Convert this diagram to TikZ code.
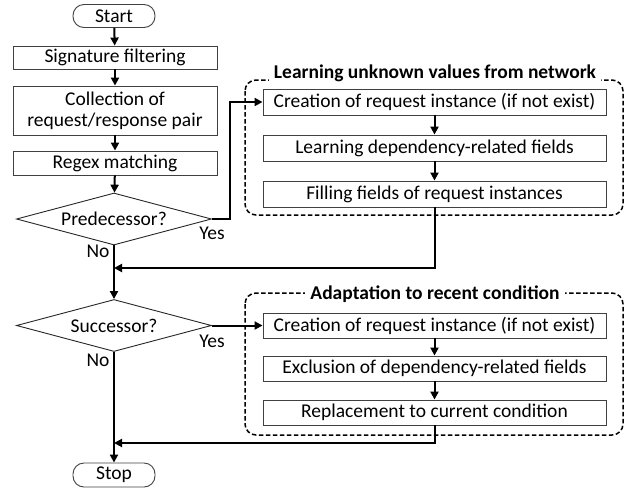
\documentclass[tikz,border=0pt]{standalone}
\usepackage{fontspec}
\setmainfont{Carlito}
\usetikzlibrary{shapes.geometric,arrows.meta}
\begin{document}
\begin{tikzpicture}[x=1pt,y=-1pt,
  font=\fontsize{19.5}{21}\selectfont,
  box/.style={draw=black!75,line width=0.9pt,inner sep=0pt,align=center},
  stepbox/.style={box,minimum width=204pt},
  subbox/.style={box,minimum width=343pt,minimum height=26pt},
  term/.style={box,rounded corners=11pt,minimum width=82pt,minimum height=23pt},
  decide/.style={draw=black!85,line width=0.9pt,diamond,inner sep=0pt,aspect=3.75,minimum width=195pt,minimum height=52pt},
  conn/.style={line width=2pt,-{Triangle[length=8pt,width=8pt]}},
  group/.style={draw,line width=1.5pt,dash pattern=on 4.5pt off 2.5pt,rounded corners=11pt},
  gtitle/.style={fill=white,inner xsep=5pt,inner ysep=1pt,font=\fontsize{19.5}{21}\selectfont\bfseries},
  lbl/.style={inner sep=0pt}]
\useasboundingbox (0,0) rectangle (629,491);

% main column
\node[term] (start) at (114,16) {Start};
\node[stepbox,minimum height=23pt] (sig) at (115,57.5) {Signature filtering};
\node[stepbox,minimum height=49pt] (coll) at (115,110.5) {Collection of\\request/response pair};
\node[stepbox,minimum height=24pt] (regex) at (115,163) {Regex matching};
\node[decide] (pred) at (114,219) {Predecessor?};
\node[decide] (succ) at (114,325.5) {Successor?};
\node[term,minimum height=24pt] (stop) at (114,475) {Stop};

% first group: learning unknown values
\draw[group] (245,80) rectangle (623,215);
\node[gtitle] (t1) at (435,73) {Learning unknown values from network};
\node[subbox] (cr1) at (434.5,102) {Creation of request instance (if not exist)};
\node[subbox] (lrn) at (434.5,148) {Learning dependency-related fields};
\node[subbox] (fil) at (434.5,194) {Filling fields of request instances};

% second group: adaptation
\draw[group] (245,293) rectangle (623,435);
\node[gtitle] (t2) at (435,294) {Adaptation to recent condition};
\node[subbox,minimum height=25pt] (cr2) at (434.5,325.5) {Creation of request instance (if not exist)};
\node[subbox,minimum height=25pt] (exc) at (434.5,368.5) {Exclusion of dependency-related fields};
\node[subbox,minimum height=25pt] (rep) at (434.5,412.5) {Replacement to current condition};

% junction points
\coordinate (j1) at (230,219);
\coordinate (m1) at (114,268);
\coordinate (m2) at (114,443);

% connectors
\draw[conn] (start) -- (sig);
\draw[conn] (sig) -- (coll);
\draw[conn] (coll) -- (regex);
\draw[conn] (regex) -- (pred);
\draw[conn] (pred.east) -- (j1) |- (cr1.west);
\draw[conn] (cr1) -- (lrn);
\draw[conn] (lrn) -- (fil);
\draw[conn] (fil.south) |- (m1);
\draw[conn] (pred.south) -- (succ.north);
\draw[conn] (succ.east) -- (cr2.west);
\draw[conn] (cr2) -- (exc);
\draw[conn] (exc) -- (rep);
\draw[conn] (rep.south) |- (m2);
\draw[conn] (succ.south) -- (stop.north);

% branch labels
\node[lbl] (y1) at (212,233) {Yes};
\node[lbl] (n1) at (98,251) {No};
\node[lbl] (y2) at (212,341) {Yes};
\node[lbl] (n2) at (98,360) {No};
\end{tikzpicture}
\end{document}
